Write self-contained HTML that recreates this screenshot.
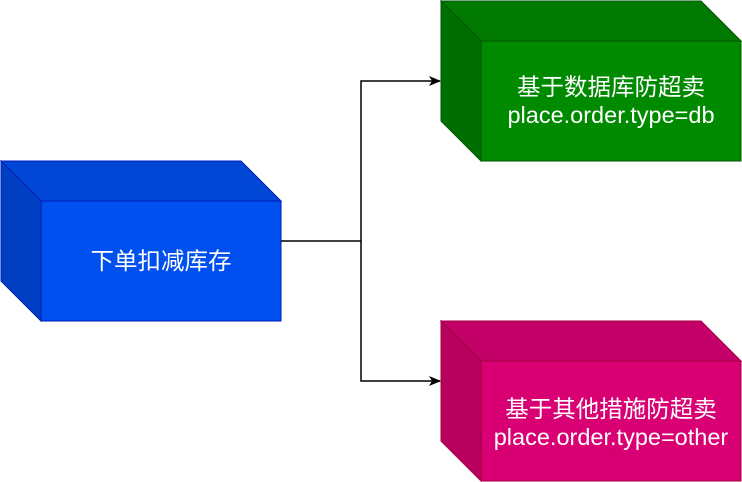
<!DOCTYPE html>
<html><head><meta charset="utf-8"><style>
html,body{margin:0;padding:0;background:#fff;}
body{width:742px;height:482px;position:relative;overflow:hidden;}
.t{position:absolute;color:#fff;text-align:center;font-family:"Liberation Sans","Noto Sans CJK SC",sans-serif;font-size:23.5px;line-height:28px;white-space:nowrap;}
</style></head><body>
<svg width="742" height="482" style="position:absolute;left:0;top:0">
<defs><marker id="a" markerWidth="12" markerHeight="10" refX="11" refY="5" orient="auto" markerUnits="userSpaceOnUse"><path d="M0,0 L12,5 L0,10 L3,5 Z" fill="#000"/></marker></defs>
<!-- blue -->
<polygon points="1,161 241,161 281,201 41,201" fill="#0047d6" stroke="#001dbc"/>
<polygon points="1,161 41,201 41,321 1,281" fill="#003fc2" stroke="#001dbc"/>
<rect x="41" y="201" width="240" height="120" fill="#0050ef" stroke="#001dbc"/>
<!-- green -->
<polygon points="441,1 701,1 741,41 481,41" fill="#007a00" stroke="#005700"/>
<polygon points="441,1 481,41 481,161 441,121" fill="#006e00" stroke="#005700"/>
<rect x="481" y="41" width="260" height="120" fill="#008a00" stroke="#005700"/>
<!-- magenta -->
<polygon points="441,321 701,321 741,361 481,361" fill="#c30068" stroke="#a50040"/>
<polygon points="441,321 481,361 481,481 441,441" fill="#b8005f" stroke="#a50040"/>
<rect x="481" y="361" width="260" height="120" fill="#d80073" stroke="#a50040"/>
<path d="M281,241 H361 V81 H440" fill="none" stroke="#000" stroke-width="1.5" marker-end="url(#a)"/>
<path d="M361,241 V381 H440" fill="none" stroke="#000" stroke-width="1.5" marker-end="url(#a)"/>
</svg>
<div class="t" style="left:41px;width:240px;top:247px;">下单扣减库存</div>
<div class="t" style="left:481px;width:260px;top:73px;">基于数据库防超卖<br>place.order.type=db</div>
<div class="t" style="left:481px;width:260px;top:395px;">基于其他措施防超卖<br>place.order.type=other</div>
</body></html>
